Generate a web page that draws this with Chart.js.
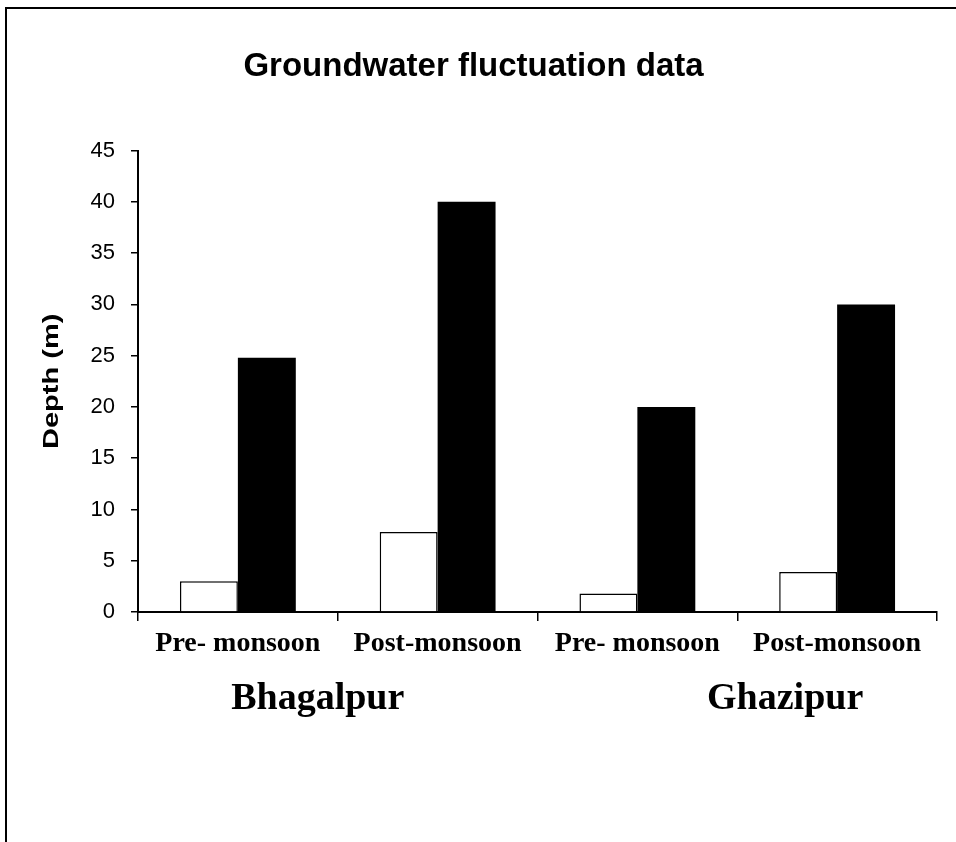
<!DOCTYPE html>
<html>
<head>
<meta charset="utf-8">
<title>Groundwater fluctuation data</title>
<script src="https://cdn.jsdelivr.net/npm/chart.js@4/dist/chart.umd.min.js"></script>
<style>
  html, body { margin: 0; padding: 0; background: #fff; }
  #wrap { position: relative; width: 956px; height: 842px; overflow: hidden; }
  #frame { position: absolute; left: 5px; top: 7px; width: 1200px; height: 1200px;
           border-left: 2px solid #000; border-top: 2px solid #000; }
  canvas { position: absolute; left: 0; top: 0; }
</style>
</head>
<body>
<div id="wrap">
  <div id="frame"></div>
  <canvas id="gwChart" width="956" height="842"></canvas>
</div>
<script>
const seasons = ['Pre- monsoon', 'Post-monsoon', 'Pre- monsoon', 'Post-monsoon'];
const districts = ['Bhagalpur', 'Ghazipur'];
const minDepth = [3.0, 7.8, 1.8, 3.9];
const maxDepth = [24.8, 40.0, 20.0, 30.0];
const yTicks = [0, 5, 10, 15, 20, 25, 30, 35, 40, 45];
const yTitle = 'Depth (m)';

// district names under the season labels, plus the (slightly stretched) y title
const extraText = {
  id: 'extraText',
  afterDraw(chart) {
    const ctx = chart.ctx;
    const x = chart.scales.x;
    const area = chart.chartArea;
    const spots = [x.getPixelForValue(0.4), x.getPixelForValue(2.74)];
    ctx.save();
    ctx.fillStyle = '#000';
    ctx.font = 'bold 38px "Liberation Serif", "Times New Roman", serif';
    ctx.textAlign = 'center';
    ctx.textBaseline = 'alphabetic';
    districts.forEach((name, i) => ctx.fillText(name, spots[i], 709));
    ctx.restore();

    ctx.save();
    ctx.translate(52, (area.top + area.bottom) / 2);
    ctx.rotate(-Math.PI / 2);
    ctx.scale(1.32, 1);
    ctx.fillStyle = '#000';
    ctx.font = 'bold 22px Arial, "Liberation Sans", sans-serif';
    ctx.textAlign = 'center';
    ctx.textBaseline = 'middle';
    ctx.fillText(yTitle, 0, 0);
    ctx.restore();
  }
};

const ctx = document.getElementById('gwChart').getContext('2d');

new Chart(ctx, {
  type: 'bar',
  data: {
    labels: seasons,
    datasets: [
      {
        label: 'Minimum',
        data: minDepth,
        backgroundColor: '#fff',
        borderColor: '#000',
        borderWidth: 1.5,
        borderSkipped: 'bottom'
      },
      {
        label: 'Maximum',
        data: maxDepth,
        backgroundColor: '#000',
        borderColor: '#000',
        borderWidth: 0
      }
    ]
  },
  options: {
    responsive: false,
    animation: false,
    categoryPercentage: 0.58,
    barPercentage: 1.0,
    layout: { padding: { left: 10, right: 19, top: 0, bottom: 0 } },
    plugins: {
      legend: { display: false },
      tooltip: { enabled: false },
      title: {
        display: true,
        text: 'Groundwater fluctuation data',
        color: '#000',
        font: { family: 'Arial, "Liberation Sans", sans-serif', size: 33, weight: 'bold' },
        padding: { top: 47, bottom: 64 }
      }
    },
    scales: {
      x: {
        grid: { display: true, drawOnChartArea: false, offset: true, tickLength: 9, color: '#000', lineWidth: 1.5 },
        border: { display: true, color: '#000', width: 2 },
        ticks: {
          color: '#000',
          padding: 6,
          maxRotation: 0,
          autoSkip: false,
          font: { family: '"Liberation Serif", "Times New Roman", serif', size: 28, weight: 'bold' }
        },
        afterFit(scale) { scale.height = 230; }
      },
      y: {
        min: 0,
        max: 45,
        afterBuildTicks(scale) { scale.ticks = yTicks.map(v => ({ value: v })); },
        grid: { display: true, drawOnChartArea: false, tickLength: 7, color: '#000', lineWidth: 1.5 },
        border: { display: true, color: '#000', width: 2 },
        ticks: {
          color: '#000',
          padding: 16,
          font: { family: 'Arial, "Liberation Sans", sans-serif', size: 22 }
        },
        afterFit(scale) { scale.width = 128; }
      }
    }
  },
  plugins: [extraText]
});
</script>
</body>
</html>
